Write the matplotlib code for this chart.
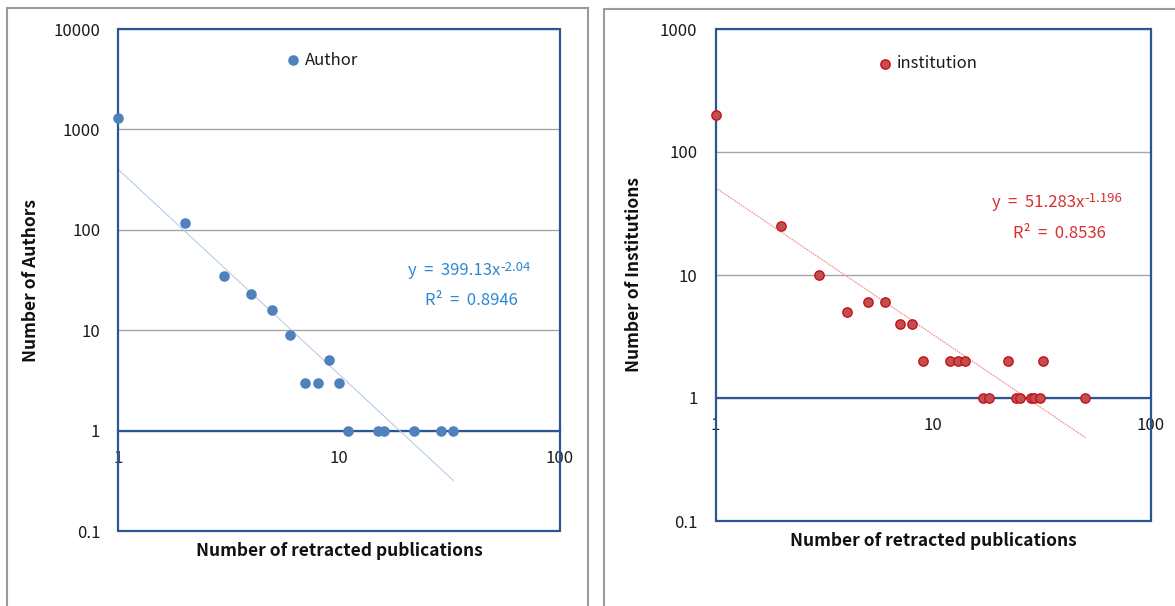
import matplotlib
matplotlib.use("Agg")
import matplotlib.pyplot as plt
import numpy as np
from matplotlib.patches import Rectangle
from matplotlib.ticker import NullLocator, FixedLocator, FixedFormatter

plt.rcParams['font.family'] = ['Noto Sans CJK KR', 'DejaVu Sans']

# ---------------- data ----------------
author_x = [1, 2, 3, 4, 5, 6, 7, 8, 9, 10, 11, 15, 16, 22, 29, 33]
author_y = [1300, 118, 35, 23, 16, 9, 3, 3, 5, 3, 1, 1, 1, 1, 1, 1]
author_fit = (399.13, -2.04)
author_eq = "y  =  399.13x"
author_eq_sup = "-2.04"
author_r2 = "R²  =  0.8946"

inst_x = [1, 2, 3, 4, 5, 6, 7, 8, 9, 12, 13, 14, 17, 18, 22, 24, 25, 28, 29, 31, 32, 50]
inst_y = [200, 25, 10, 5, 6, 6, 4, 4, 2, 2, 2, 2, 1, 1, 2, 1, 1, 1, 1, 1, 2, 1]
inst_fit = (51.283, -1.196)
inst_eq = "y  =  51.283x"
inst_eq_sup = "-1.196"
inst_r2 = "R²  =  0.8536"

x_ticks = [1, 10, 100]
x_tick_labels = ["1", "10", "100"]
y_ticks_author = [0.1, 1, 10, 100, 1000, 10000]
y_tick_labels_author = ["0.1", "1", "10", "100", "1000", "10000"]
y_ticks_inst = [0.1, 1, 10, 100, 1000]
y_tick_labels_inst = ["0.1", "1", "10", "100", "1000"]

W, H = 1175, 606
fig = plt.figure(figsize=(W / 100, H / 100), dpi=100)
fig.patch.set_facecolor("white")

NAVY = "#2C5596"
GRID = "#A6A6A6"

# panel borders
fig.patches.append(Rectangle((7 / W, -0.05), 581 / W, 1 - 8 / H + 0.05, transform=fig.transFigure,
                             fill=False, ec="#9A9A9A", lw=1.5))
fig.patches.append(Rectangle((603.5 / W, -0.05), 0.5, 1 - 8.5 / H + 0.05, transform=fig.transFigure,
                             fill=False, ec="#9A9A9A", lw=1.5))

ax1 = fig.add_axes([118.3 / W, 1 - 531 / H, (559.5 - 118.3) / W, (531 - 29) / H])
ax2 = fig.add_axes([715.5 / W, 1 - 521 / H, (1151 - 715.5) / W, (521 - 29) / H])


def style(ax, yticks, ylabels, ylim, ylabel, ylabel_x):
    ax.set_xscale("log")
    ax.set_yscale("log")
    ax.set_xlim(1, 100)
    ax.set_ylim(*ylim)
    ax.xaxis.set_major_locator(FixedLocator(x_ticks))
    ax.xaxis.set_major_formatter(FixedFormatter(x_tick_labels))
    ax.yaxis.set_major_locator(FixedLocator(yticks))
    ax.yaxis.set_major_formatter(FixedFormatter(ylabels))
    ax.xaxis.set_minor_locator(NullLocator())
    ax.yaxis.set_minor_locator(NullLocator())
    ax.grid(axis="y", which="major", color=GRID, lw=1.0)
    ax.set_axisbelow(True)
    for s in ["top", "right", "left"]:
        ax.spines[s].set_visible(False)
    ax.spines["bottom"].set_position(("data", 1))
    ax.spines["bottom"].set_color(NAVY)
    ax.spines["bottom"].set_linewidth(1.6)
    ax.add_patch(Rectangle((0, 0), 1, 1, transform=ax.transAxes, fill=False,
                           ec=NAVY, lw=1.6, clip_on=False, zorder=5))
    ax.tick_params(axis="both", length=0, labelsize=12, colors="#1A1A1A")
    ax.tick_params(axis="y", pad=13)
    ax.tick_params(axis="x", pad=14)
    ax.set_ylabel(ylabel, fontsize=12.5, fontweight="bold", color="#111111")
    ax.yaxis.set_label_coords(ylabel_x, 0.5)


style(ax1, y_ticks_author, y_tick_labels_author, (0.1, 10000), "Number of Authors", -0.177)
style(ax2, y_ticks_inst, y_tick_labels_inst, (0.1, 1000), "Number of Institutions", -0.166)

for ax, dy in [(ax1, -20 / 502), (ax2, -20 / 492)]:
    ax.text(0.5, dy, "Number of retracted publications", transform=ax.transAxes,
            ha="center", va="center", fontsize=12.5, fontweight="bold", color="#111111")

# scatter
BLUE = "#4F81BD"
sc1 = ax1.scatter(author_x, author_y, s=58, color=BLUE, zorder=6, clip_on=False, linewidths=0)
sc2 = ax2.scatter(inst_x, inst_y, s=45, facecolor="#C0504D", edgecolor="#C8101A",
                  linewidths=1.0, zorder=6, clip_on=False)

# trendlines
xs1 = np.geomspace(min(author_x), max(author_x), 200)
ax1.plot(xs1, author_fit[0] * xs1 ** author_fit[1], color="#AFC6E6", lw=0.7, zorder=4)
xs2 = np.geomspace(min(inst_x), max(inst_x), 200)
ax2.plot(xs2, inst_fit[0] * xs2 ** inst_fit[1], color="#EE8A8A", lw=0.8,
         ls=(0, (1.5, 0.8)), zorder=4)

# legends
ax1.legend([sc1], ["Author"], loc="center left", bbox_to_anchor=(0.385, 0.938),
           frameon=False, handlelength=0.6, handletextpad=0.4, borderpad=0,
           borderaxespad=0, fontsize=12, labelcolor="#1A1A1A")
ax2.legend([sc2], ["institution"], loc="center left", bbox_to_anchor=(0.378, 0.929),
           frameon=False, handlelength=0.6, handletextpad=0.4, borderpad=0,
           borderaxespad=0, fontsize=12, labelcolor="#1A1A1A")

# equations
def equation(ax, x, y, main, sup, r2x, r2y, r2, color):
    t = ax.text(x, y, main, transform=ax.transAxes, ha="left", va="center",
                fontsize=12, color=color)
    ax.annotate(sup, xy=(1, 1), xycoords=t, xytext=(0.3, 1.2), textcoords="offset points",
                ha="left", va="top", fontsize=9.5, color=color)
    ax.text(r2x, r2y, r2, transform=ax.transAxes, ha="center", va="center",
            fontsize=12, color=color)


equation(ax1, 0.657, 0.518, author_eq, author_eq_sup, 0.80, 0.46, author_r2, "#2E88D4")
equation(ax2, 0.635, 0.648, inst_eq, inst_eq_sup, 0.789, 0.585, inst_r2, "#D63031")

fig.savefig("out.png", dpi=100, facecolor="white")
